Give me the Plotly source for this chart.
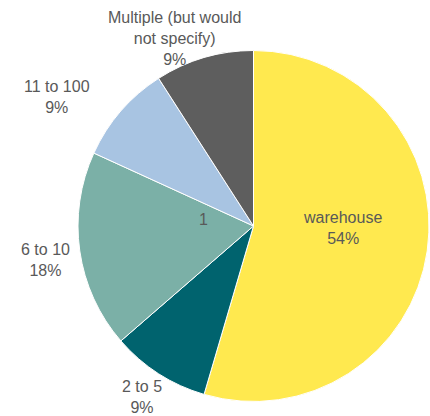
import plotly.graph_objects as go

# Share of responses by number of locations (percent)
categories = ["warehouse", "2 to 5", "6 to 10", "11 to 100", "Multiple (but would<br>not specify)"]
shares = [54, 9, 18, 9, 9]
colors = ["#FFE94F", "#00636E", "#7BB0A7", "#A8C4E2", "#5E5E5E"]
series_name = "1"

W, H = 430, 416
cx, cy, r = 253.5, 226, 175.5
FONT = dict(family="Liberation Sans, Arial, sans-serif", size=16, color="#595959")

# label block centres in pixels (x, y), one per slice
label_xy = [(342, 228), (142, 397), (45, 260), (57, 97), (174, 38)]

fig = go.Figure(go.Pie(
    labels=categories,
    values=shares,
    sort=False,
    direction="clockwise",
    rotation=0,
    marker=dict(colors=colors, line=dict(color="white", width=1)),
    textinfo="none",
    showlegend=False,
    automargin=False,
    domain=dict(x=[(cx - r) / W, (cx + r) / W], y=[1 - (cy + r) / H, 1 - (cy - r) / H]),
    hovertemplate="%{label}: %{value}%<extra></extra>",
))

for name, v, (px, py) in zip(categories, shares, label_xy):
    fig.add_annotation(
        text=f"{name}<br>{v}%", x=px / W, y=1 - py / H, xref="paper", yref="paper",
        xanchor="center", yanchor="middle", showarrow=False, font=FONT,
    )

fig.add_annotation(
    text=series_name, x=203 / W, y=1 - 219 / H, xref="paper", yref="paper",
    showarrow=False, font=FONT,
)

fig.update_layout(
    width=W, height=H,
    margin=dict(l=0, r=0, t=0, b=0),
    paper_bgcolor="white", plot_bgcolor="white",
)

fig.write_html("out.html")
